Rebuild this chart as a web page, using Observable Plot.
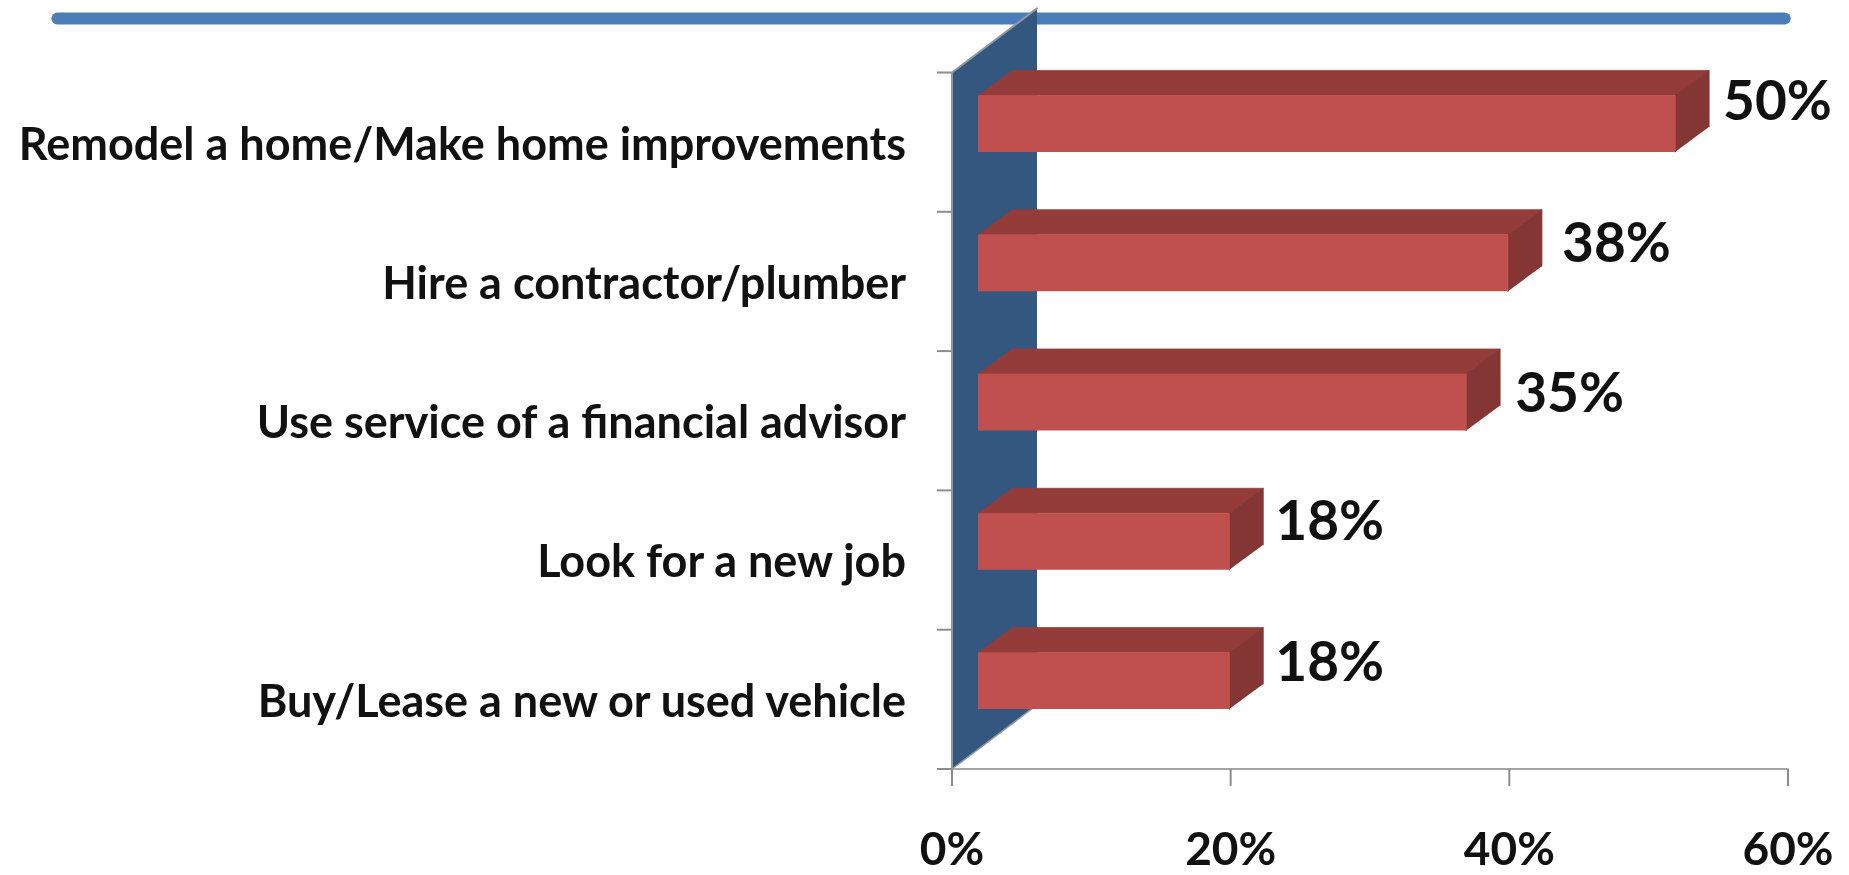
<!DOCTYPE html>
<html>
<head>
<meta charset="utf-8">
<script src="https://cdn.jsdelivr.net/npm/d3@7"></script>
<script src="https://cdn.jsdelivr.net/npm/@observablehq/plot@0.6"></script>
<style>
html,body{margin:0;padding:0;background:#fff;overflow:hidden}
svg{display:block;filter:blur(.6px)}
</style>
</head>
<body>
<div id="chart"></div>
<script>
// Data, top to bottom
const categories = [
  "Remodel a home/Make home improvements",
  "Hire a contractor/plumber",
  "Use service of a financial advisor",
  "Look for a new job",
  "Buy/Lease a new or used vehicle"
];
const values = [50, 38, 35, 18, 18];
const xTicks = [0, 20, 40, 60];
const rowEdges = [0, 1, 2, 3, 4, 5];

// 3-D look, in data units (x: percent, y: rows counted from the bottom)
const wallDepth = {x: 6.1, y: 0.46};
const barDepth = {x: 2.44, y: 0.18};
const barInset = 1.9;
const barLow = 0.43, barHigh = 0.835;
// value label placement relative to the bar end and row centre, in data units
const labelShiftX = [1.0, 1.44, 1.08, 0.86, 0.86];
const labelShiftY = [0.288, 0.263, 0.187, 0.271, 0.255];

const rows = categories.map((name, i) => ({
  name, value: values[i], row: categories.length - 1 - i,
  shiftX: labelShiftX[i], shiftY: labelShiftY[i]
}));

const poly = (id, pts) => pts.map(([x, y]) => ({id, x, y}));
const wall = poly("wall", [
  [0, 0], [0, 5], [wallDepth.x, 5 + wallDepth.y], [wallDepth.x, wallDepth.y]
]);

const fronts = [], tops = [], sides = [];
rows.forEach((d, i) => {
  const x0 = barInset, x1 = barInset + d.value;
  const lo = d.row + barLow, hi = d.row + barHigh;
  fronts.push(...poly(i, [[x0, lo], [x0, hi], [x1, hi], [x1, lo]]));
  tops.push(...poly(i, [[x0, hi], [x0 + barDepth.x, hi + barDepth.y], [x1 + barDepth.x, hi + barDepth.y], [x1, hi]]));
  sides.push(...poly(i, [[x1, lo], [x1, hi], [x1 + barDepth.x, hi + barDepth.y], [x1 + barDepth.x, lo + barDepth.y]]));
});

const face = (data, fill) => Plot.line(data, {x: "x", y: "y", z: "id", fill, stroke: fill, strokeWidth: 0.8, curve: "linear"});
const labelFont = "Lato, 'Open Sans', sans-serif";

const chart = Plot.plot({
  width: 1849,
  height: 875,
  margin: 0,
  style: {background: "#fff"},
  x: {type: "linear", domain: [0, 60], range: [951.5, 1787.5], axis: null},
  y: {type: "linear", domain: [0, 5], range: [768.5, 72], axis: null},
  marks: [
    // header band
    Plot.ruleY([5 + 0.388], {x1: -64.17, x2: 59.8, stroke: "#4a7ebb", strokeWidth: 12, strokeLinecap: "round"}),
    // back wall
    Plot.line(wall, {x: "x", y: "y", fill: "#34577f", stroke: null, curve: "linear"}),
    Plot.line(wall.slice(0, 3), {x: "x", y: "y", stroke: "#8e98a3", strokeWidth: 2, curve: "linear"}),
    Plot.line([wall[0], wall[3]], {x: "x", y: "y", stroke: "#8e98a3", strokeWidth: 1.5, curve: "linear"}),
    // axes
    Plot.ruleY([0], {x1: 0, x2: 60, stroke: "#a6a6a6", strokeWidth: 2}),
    Plot.ruleX(xTicks, {x: d => d, y1: 0, y2: -0.125, stroke: "#8c8c8c", strokeWidth: 2}),
    Plot.ruleY(rowEdges, {y: d => d, x1: -1.05, x2: 0, stroke: "#8c8c8c", strokeWidth: 2}),
    // bars
    face(tops, "#943c39"),
    face(sides, "#843634"),
    face(fronts, "#c0504d"),
    // text
    Plot.text(rows, {
      x: 0, y: d => d.row + 0.5, text: "name", textAnchor: "end", dx: -46, dy: 3,
      fontFamily: labelFont, fontWeight: 700, fontSize: 45, fill: "#111"
    }),
    Plot.text(rows, {
      x: d => barInset + d.value + barDepth.x + d.shiftX,
      y: d => d.row + 0.5 + d.shiftY,
      text: d => d.value + "%",
      textAnchor: "start",
      fontFamily: labelFont, fontWeight: 700, fontSize: 55, fill: "#111"
    }),
    Plot.text(xTicks, {
      x: d => d, y: 0, text: d => d + "%", dy: 81,
      fontFamily: labelFont, fontWeight: 700, fontSize: 46, fill: "#111"
    })
  ]
});
document.getElementById("chart").append(chart);
</script>
</body>
</html>
